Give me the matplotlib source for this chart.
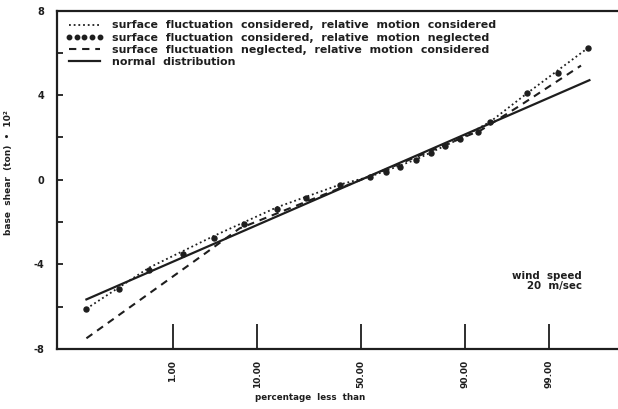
import numpy as np
import matplotlib
matplotlib.use('Agg')
import matplotlib.pyplot as plt
from matplotlib.ticker import FixedLocator, MultipleLocator
from statistics import NormalDist

# percentage less than (probability axis) and base shear values (ton * 10^2)
pct_pts = [0.035, 0.14, 0.45, 1.4, 3.5, 7.5, 15, 25, 40, 54.5, 62, 68.5,
           75, 80.5, 85, 89, 92.5, 94.5, 98, 99.25, 99.75]
shear_neglected = [-6.1, -5.15, -4.25, -3.5, -2.75, -2.1, -1.4, -0.85, -0.25, 0.15,
                   0.35, 0.6, 0.95, 1.25, 1.6, 1.95, 2.25, 2.75, 4.1, 5.05, 6.25]

pct_cons = [0.035, 0.45, 3.5, 15, 40, 54.5, 75, 89, 94.5, 98, 99.75]
shear_considered = [-6.1, -4.15, -2.65, -1.3, -0.22, 0.15, 0.95, 1.95, 2.75, 4.1, 6.25]

pct_surf = [0.035, 2.8, 6.7, 50, 93.1, 97.5, 99.67]
shear_surf_negl = [-7.5, -3.45, -2.3, 0.0, 2.35, 3.5, 5.4]

pct_norm = [0.035, 50, 99.76]
shear_normal = [-5.66, 0.0, 4.71]

xticks = [1, 10, 50, 90, 99]
xticklabels = ['1.00', '10.00', '50.00', '90.00', '99.00']
yticks = [-8, -4, 0, 4, 8]

nd = NormalDist()
_ppf = np.vectorize(lambda v: nd.inv_cdf(v / 100.0), otypes=[float])
_cdf = np.vectorize(lambda v: nd.cdf(v) * 100.0, otypes=[float])


def fwd(p):
    p = np.clip(np.asarray(p, dtype=float), 1e-9, 100 - 1e-9)
    return _ppf(p)


def inv(z):
    return _cdf(np.asarray(z, dtype=float))


plt.rcParams['font.family'] = 'DejaVu Sans'
plt.rcParams['font.weight'] = 'bold'

ink = '#1e1e1e'
fig = plt.figure(figsize=(6.18, 4.09), dpi=100)
ax = fig.add_axes([0.0922, 0.147, 0.9078, 0.827])
ax.set_xscale('function', functions=(fwd, inv))

ax.plot(pct_cons, shear_considered, color=ink, lw=1.3, ls=(0, (1, 1.6)),
        label='surface  fluctuation  considered,  relative  motion  considered')
ax.plot(pct_pts, shear_neglected, color=ink, lw=0, marker='o', ms=3.6,
        label='surface  fluctuation  considered,  relative  motion  neglected')
ax.plot(pct_surf, shear_surf_negl, color=ink, lw=1.5, ls=(0, (3.5, 2.8)),
        label='surface  fluctuation  neglected,  relative  motion  considered')
ax.plot(pct_norm, shear_normal, color=ink, lw=1.6,
        label='normal  distribution')

ax.set_xlim(float(inv(-3.753)), float(inv(3.173)))
ax.set_ylim(-8, 8)

ax.xaxis.set_major_locator(FixedLocator(xticks))
ax.xaxis.set_minor_locator(FixedLocator([]))
ax.set_xticklabels(xticklabels, rotation=90, fontsize=6.5, fontweight='bold')
ax.tick_params(axis='x', direction='in', length=18, width=1.3, pad=8, colors=ink)

ax.set_yticks(yticks)
ax.set_yticklabels(['-8', '-4', '0', '4', '8'], fontsize=7, fontweight='bold')
ax.yaxis.set_minor_locator(MultipleLocator(2))
ax.tick_params(axis='y', which='both', direction='in', length=4, width=1.3,
               pad=9, colors=ink)

for s in ['left', 'bottom', 'top']:
    ax.spines[s].set_linewidth(1.6)
    ax.spines[s].set_color(ink)
ax.spines['right'].set_visible(False)

ax.set_xlabel('percentage  less  than', fontsize=6.3, fontweight='bold', color=ink)
ax.xaxis.set_label_coords(0.451, -0.13)
ax.set_ylabel('base  shear  (ton)  \u2022  10\u00b2', fontsize=6.5, fontweight='bold', color=ink)
ax.yaxis.set_label_coords(-0.078, 0.52)

leg = ax.legend(loc='upper left', bbox_to_anchor=(0.0, 0.997), frameon=False,
                numpoints=5, handlelength=3.4, handletextpad=0.85,
                labelspacing=0.2, borderaxespad=0.4,
                prop={'size': 7.9, 'weight': 'bold'})
for t in leg.get_texts():
    t.set_color(ink)
for h in leg.legend_handles:
    h.set_markersize(3.2)

ax.text(0.936, 0.2, 'wind  speed\n20  m/sec', transform=ax.transAxes,
        ha='right', va='center', fontsize=7.4, fontweight='bold',
        multialignment='right', color=ink, linespacing=1.0)

plt.savefig('out.png', dpi=100)
